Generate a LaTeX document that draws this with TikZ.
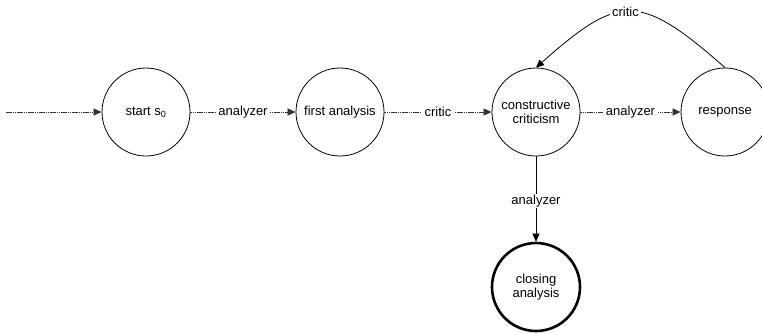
\documentclass[tikz,border=0pt]{standalone}
\usepackage{fontspec}
\setmainfont{Liberation Sans}
\usetikzlibrary{arrows.meta}
\begin{document}
\begin{tikzpicture}[x=1pt,y=1pt,
  state/.style={circle,draw=black,line width=0.8pt,minimum size=88pt,inner sep=0pt,
    align=center,font=\fontsize{13}{13.5}\selectfont},
  final/.style={state,line width=2.6pt,minimum size=88pt},
  tip/.style={-{Triangle[length=8pt,width=7pt]}},
  flow/.style={tip,draw=black!80,line width=0.7pt,dash pattern=on 1.6pt off 0.6pt},
  solidflow/.style={tip,draw=black,line width=0.8pt},
  lbl/.style={fill=white,inner xsep=2.5pt,inner ysep=1pt,font=\fontsize{13}{13}\selectfont}
]
\useasboundingbox (0,0) rectangle (762,-333);

% states of the machine
\node[state] (start)  at (146,-112) {start s\textsubscript{0}};
\node[state] (first)  at (340,-112) {first analysis};
\node[state] (constr) at (536,-112) {constructive\\criticism};
\node[state] (resp)   at (725,-112) {response};
\node[final] (close)  at (536,-287) {closing\\analysis};

% entry arrow
\coordinate (entry) at (6,-112);
\draw[flow] (entry) -- (start);

% transitions
\draw[flow] (start) -- node[lbl] {analyzer} (first);
\draw[flow] (first) -- node[lbl] {critic} (constr);
\draw[flow] (constr) -- node[lbl] {analyzer} (resp);
\draw[solidflow] (constr) -- node[lbl,pos=0.52] {analyzer} (close);
\draw[solidflow] (resp.north) .. controls (640,7) and (620,7) .. (constr.north)
  node[lbl,pos=0.53] {critic};
\end{tikzpicture}
\end{document}
